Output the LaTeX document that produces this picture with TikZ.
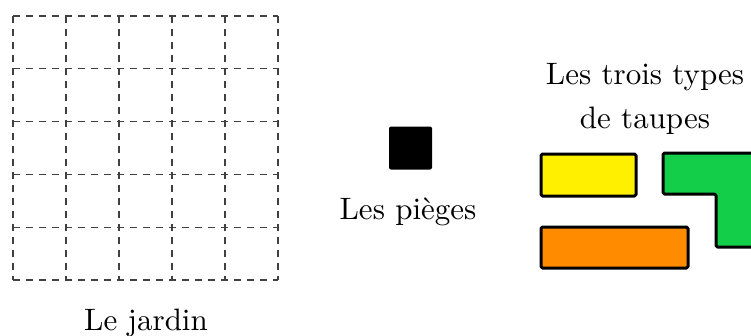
\documentclass[tikz,border=0pt]{standalone}
\usepackage{fontspec}
\newfontfamily\lmten{lmroman10-regular.otf}
\begin{document}
\begin{tikzpicture}[x=1pt,y=-1pt,
  gridline/.style={line width=1.1pt, dash pattern=on 7pt off 6pt, black!75},
  piece/.style={draw=black, line width=3pt, line join=round, rounded corners=1.5pt},
  lbl/.style={font=\lmten\fontsize{31}{44}\selectfont, align=center, inner sep=0pt},
]
\useasboundingbox (0,0) rectangle (751,335);
\clip (0,0) rectangle (751,335);
\definecolor{cyel}{RGB}{255,240,0}
\definecolor{cgreen}{RGB}{18,206,72}
\definecolor{corange}{RGB}{255,140,0}
% garden grid
\foreach \i in {0,...,5}{
  \draw[gridline] ({13+\i*53},16) -- ({13+\i*53},280);
  \draw[gridline] (13,{16+\i*52.8}) -- (278,{16+\i*52.8});
}
\coordinate (gridc) at (146,330);
\node[lbl, anchor=base] (jardin) at (gridc) {Le jardin};
% trap
\node[fill=black, minimum size=43pt, inner sep=0pt, rounded corners=2pt] (piege) at (410.5,148) {};
\node[lbl, anchor=base] (pieges) at (408,219) {Les pièges};
% moles
\node[lbl, anchor=base] (types) at (645,128) {Les trois types\\de taupes};
\draw[piece, fill=cyel] (541,154) rectangle (636,196);
\draw[piece, fill=corange] (541,227) rectangle (688,268);
\draw[piece, fill=cgreen] (663,153) -- (780,153) -- (780,247) -- (716,247) -- (716,194) -- (663,194) -- cycle;
\end{tikzpicture}
\end{document}
